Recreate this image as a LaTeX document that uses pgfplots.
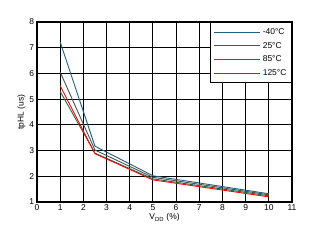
\documentclass[border=0pt]{standalone}
\usepackage{pgfplots}
\pgfplotsset{compat=1.18}
\usepackage{fontspec}
\setmainfont{Liberation Sans}
\definecolor{cA}{HTML}{1F5F7F}
\definecolor{cB}{HTML}{505050}
\definecolor{cC}{HTML}{1F6B4F}
\definecolor{cD}{HTML}{FF0000}
\begin{document}
\fontsize{8.5}{10}\selectfont
\begin{tikzpicture}
\useasboundingbox (-37bp,-41bp) rectangle (275bp,202bp);
\begin{axis}[
  scale only axis, width=255bp, height=180bp,
  xmin=0, xmax=11, ymin=1, ymax=8,
  xtick={0,...,11}, ytick={1,...,8},
  major tick length=0pt,
  grid=major,
  major grid style={black, line width=1.1pt},
  axis line style={black, line width=1.1pt},
  /pgf/number format/assume math mode=true,
  tick label style={font=\fontsize{8.5}{10}\selectfont},
  xlabel={V\textsubscript{DD} (\%)},
  ylabel={tpHL (us)},
  label style={font=\fontsize{8.5}{10}\selectfont},
  xlabel style={yshift=3bp},
  ylabel style={yshift=-2bp},
  legend style={at={(rel axis cs:1,1)}, anchor=north east, draw=black, line width=1.1pt,
    font=\fontsize{8.5}{10}\selectfont, row sep=2.5bp, inner ysep=4bp, inner xsep=3bp},
  legend cell align=left,
  legend image code/.code={\draw[#1, line width=0.9pt] (0bp,0bp) -- (46bp,0bp);},
]
\addplot[cA, line width=0.9pt] coordinates {(1,7.22) (2.5,3.17) (5,2.02) (10,1.32)};
\addlegendentry{-40°C}
\addplot[cB, line width=0.9pt] coordinates {(1,6.05) (2.5,3.02) (5,1.96) (10,1.28)};
\addlegendentry{25°C}
\addplot[cC, line width=0.9pt] coordinates {(1,5.3) (2.5,2.9) (5,1.9) (10,1.24)};
\addlegendentry{85°C}
\addplot[cD, line width=0.9pt] coordinates {(1,5.52) (2.5,2.88) (5,1.86) (10,1.2)};
\addlegendentry{125°C}
\end{axis}
\end{tikzpicture}
\end{document}
